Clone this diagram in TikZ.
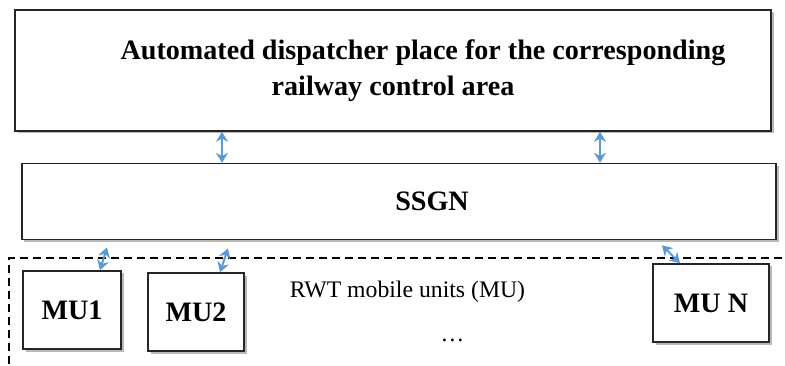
\documentclass[tikz,border=0pt]{standalone}
\usepackage{fontspec}
\setmainfont{Liberation Serif}
\usepackage{tikz}
\usetikzlibrary{positioning, shapes, arrows.meta, shadows}

\definecolor{linkblue}{HTML}{5B9BD5}

\begin{document}
\begin{tikzpicture}[
    block/.style={rectangle, draw=black!85, line width=0.9pt, fill=white,
        drop shadow={shadow xshift=0.05cm, shadow yshift=-0.05cm, fill=black!50, opacity=0.55}},
    unitbox/.style={block, minimum height=1.56cm, font=\fontsize{16}{19}\selectfont\bfseries},
    link/.style={{Stealth[length=0.2cm, width=0.24cm]}-{Stealth[length=0.2cm, width=0.24cm]}, linkblue, line width=1.1pt}
]
    \useasboundingbox (0,0) rectangle (15.7,7.3);

    % Dispatcher place
    \node[block, minimum width=15.12cm, minimum height=2.42cm, align=center,
        font=\fontsize{16}{20.5}\selectfont\bfseries] (disp) at (7.86,5.89)
        {\hspace*{1.2cm}Automated dispatcher place for the corresponding\\railway control area};

    % SSGN
    \node[block, below=0.62cm of disp, xshift=0.12cm, minimum width=15.08cm, minimum height=1.52cm,
        font=\fontsize{16}{19}\selectfont\bfseries] (ssgn) {\hspace*{1.32cm}SSGN};

    % Mobile units
    \coordinate (frame nw) at (0.18,2.14);
    \coordinate (frame ne) at (15.9,2.14);
    \coordinate (frame sw) at (0.18,-0.2);
    \draw[dashed, dash pattern=on 0.16cm off 0.1cm, line width=0.6pt] (frame ne) -- (frame nw) -- (frame sw);

    \node[unitbox, minimum width=1.96cm] (mu1) at (1.44,1.10) {MU1};
    \node[unitbox, minimum width=1.92cm] (mu2) at (3.92,1.06) {MU2};
    \node[unitbox, minimum width=2.32cm] (mun) at (14.22,1.24) {MU N};

    \node[font=\fontsize{13.5}{16}\selectfont] (rwt) at (8.15,1.46) {RWT mobile units (MU)};
    \node[font=\fontsize{13.5}{16}\selectfont, below=0.48cm of rwt, xshift=0.9cm] (dots) {\dots};

    % Connections
    \draw[link] ([xshift=-3.42cm]disp.south) -- ([xshift=-3.54cm]ssgn.north);
    \draw[link] ([xshift=4.14cm]disp.south) -- ([xshift=4.02cm]ssgn.north);
    \draw[link] ([xshift=-5.84cm, yshift=-0.14cm]ssgn.south) -- ([xshift=0.56cm]mu1.north);
    \draw[link] ([xshift=-3.42cm, yshift=-0.16cm]ssgn.south) -- ([xshift=0.48cm]mu2.north);
    \draw[link] ([xshift=5.26cm, yshift=-0.10cm]ssgn.south) -- ([xshift=-0.62cm]mun.north);
\end{tikzpicture}
\end{document}
